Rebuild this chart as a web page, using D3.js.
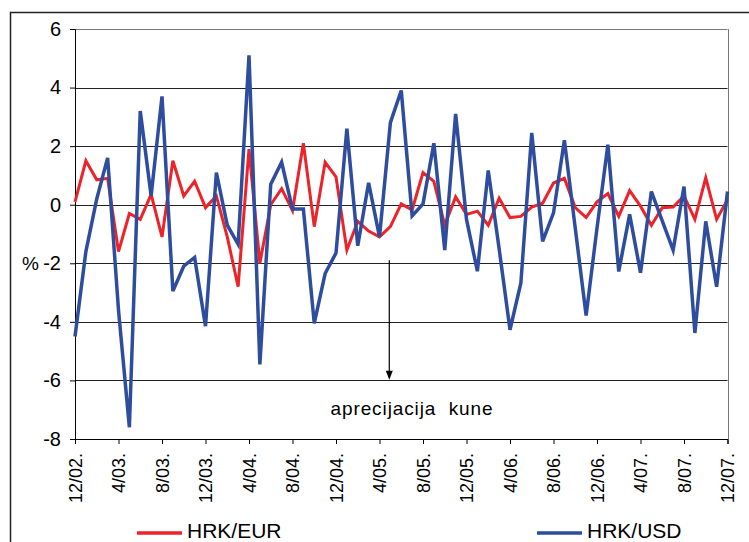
<!DOCTYPE html>
<html>
<head>
<meta charset="utf-8">
<script src="https://cdn.jsdelivr.net/npm/d3@7"></script>
<style>
    body { margin: 0; background: #fff; }
    svg { display: block; font-family: "Liberation Sans", Arial, sans-serif; }
</style>
</head>
<body>
<div class="chart"></div>
<script>
// monthly change of the kuna exchange rate, 12/02 - 12/07
const tickLabels = ['12/02.', '4/03.', '8/03.', '12/03.', '4/04.', '8/04.', '12/04.', '4/05.',
    '8/05.', '12/05.', '4/06.', '8/06.', '12/06.', '4/07.', '8/07.', '12/07.']

const hrkEur = [
    0.1, 1.5, 0.85, 0.9, -1.6, -0.3, -0.5, 0.35, -1.1, 1.5, 0.3, 0.8, -0.1,
    0.3, -1.1, -2.8, 1.9, -2.0, 0.0, 0.55, -0.2, 2.1, -0.75, 1.45, 0.95,
    -1.55, -0.57, -0.9, -1.1, -0.75, 0.03, -0.18, 1.1, 0.8, -0.7, 0.27, -0.33,
    -0.22, -0.7, 0.22, -0.44, -0.4, -0.08, 0.05, 0.74, 0.9, -0.1, -0.44, 0.1,
    0.38, -0.4, 0.48, -0.05, -0.7, -0.1, -0.08, 0.3, -0.5, 0.92, -0.5, 0.17
]

const hrkUsd = [
    -4.5, -1.6, 0.2, 1.6, -3.6, -7.6, 3.2, 0.3, 3.7, -2.95, -2.1, -1.8, -4.15,
    1.1, -0.7, -1.35, 5.1, -5.45, 0.7, 1.45, -0.15, -0.15, -4.05, -2.35, -1.65,
    2.6, -1.4, 0.75, -1.1, 2.8, 3.9, -0.38, 0.03, 2.1, -1.55, 3.1, -0.5,
    -2.27, 1.17, -1.5, -4.27, -2.67, 2.45, -1.25, -0.28, 2.2, -0.8, -3.78, -0.8,
    2.05, -2.28, -0.33, -2.32, 0.45, -0.55, -1.55, 0.62, -4.38, -0.57, -2.8, 0.45
]

const yTicks = [6, 4, 2, 0, -2, -4, -6, -8]

const series = [
    { name: 'HRK/EUR', values: hrkEur, color: '#ee2229', width: 3, legendX: 137 },
    { name: 'HRK/USD', values: hrkUsd, color: '#2e4d9e', width: 3.5, legendX: 537 }
]

const margin = { top: 29, left: 75, right: 21.5, bottom: 103 }
const W = 749, H = 542
const width = W - margin.left - margin.right
const height = H - margin.top - margin.bottom

const svg = d3.select('.chart')
    .append('svg')
    .attr('width', W)
    .attr('height', H)

// outer frame (top and left edges visible)
svg.append('path')
    .attr('d', `M10.5,${H} V12.5 H${W}`)
    .attr('fill', 'none')
    .attr('stroke', '#222')
    .attr('stroke-width', 1.5)

const x = d3.scaleLinear()
    .domain([0, hrkEur.length - 1])
    .range([margin.left, margin.left + width])

const y = d3.scaleLinear()
    .domain([-8, 6])
    .range([margin.top + height, margin.top])

// grid
svg.append('g')
    .selectAll('line')
    .data(yTicks.filter(d => d > -8))
    .enter()
    .append('line')
    .attr('x1', margin.left)
    .attr('x2', margin.left + width)
    .attr('y1', d => Math.round(y(d)) + 0.5)
    .attr('y2', d => Math.round(y(d)) + 0.5)
    .attr('stroke', d => d === 6 ? '#777' : '#222')

svg.append('line')
    .attr('x1', Math.round(margin.left + width) + 0.5)
    .attr('x2', Math.round(margin.left + width) + 0.5)
    .attr('y1', margin.top)
    .attr('y2', margin.top + height)
    .attr('stroke', '#777')

// y axis (plain hyphen for negatives, like the original)
const yAxis = svg.append('g')
    .attr('transform', `translate(${margin.left},0)`)
    .call(d3.axisLeft(y).tickValues(yTicks).tickSize(5).tickPadding(9).tickFormat(d => String(d)))
yAxis.select('.domain').attr('stroke', '#000')
yAxis.selectAll('text').attr('font-size', 20).attr('fill', '#000')
    .attr('font-family', '"Liberation Sans", Arial, sans-serif')

svg.append('text')
    .attr('x', 22)
    .attr('y', y(-2))
    .attr('dy', '0.35em')
    .attr('font-size', 19)
    .text('%')

// x axis
const tickIdx = tickLabels.map((d, i) => i * 4)
const xAxis = svg.append('g')
    .attr('transform', `translate(0,${margin.top + height})`)
    .call(d3.axisBottom(x).tickValues(tickIdx).tickSize(5).tickFormat((d, i) => tickLabels[i]))
xAxis.select('.domain').attr('stroke', '#000')
xAxis.selectAll('text')
    .attr('font-size', 18)
    .attr('fill', '#000')
    .attr('font-family', '"Liberation Sans", Arial, sans-serif')
    .attr('text-anchor', 'end')
    .attr('transform', 'rotate(-90)')
    .attr('x', -14)
    .attr('y', 0)
    .attr('dy', '0.35em')

// lines
const line = d3.line()
    .x((d, i) => x(i))
    .y(d => y(d))

svg.selectAll('.series')
    .data(series)
    .enter()
    .append('path')
    .attr('class', 'series')
    .attr('d', d => line(d.values))
    .attr('fill', 'none')
    .attr('stroke', d => d.color)
    .attr('stroke-width', d => d.width)
    .attr('stroke-linejoin', 'miter')

// annotation
const arrowX = x(28.9)
svg.append('line')
    .attr('x1', arrowX).attr('x2', arrowX)
    .attr('y1', y(-1.9)).attr('y2', y(-5.7))
    .attr('stroke', '#000')
    .attr('stroke-width', 1.2)
svg.append('path')
    .attr('d', `M${arrowX - 3.5},${y(-5.7) - 1} L${arrowX + 3.5},${y(-5.7) - 1} L${arrowX},${y(-5.98)} Z`)
    .attr('fill', '#000')

svg.append('text')
    .attr('x', 412)
    .attr('y', 415)
    .attr('text-anchor', 'middle')
    .attr('font-size', 19)
    .attr('letter-spacing', 0.9)
    .attr('xml:space', 'preserve')
    .text('aprecijacija  kune')

// legend
const legend = svg.selectAll('.legend')
    .data(series)
    .enter()
    .append('g')
    .attr('class', 'legend')
    .attr('transform', d => `translate(${d.legendX},533)`)

legend.append('line')
    .attr('x1', 0).attr('x2', 45)
    .attr('stroke', d => d.color)
    .attr('stroke-width', 3.5)

legend.append('text')
    .attr('x', 50)
    .attr('y', 5)
    .attr('font-size', 21)
    .text(d => d.name)
</script>
</body>
</html>
